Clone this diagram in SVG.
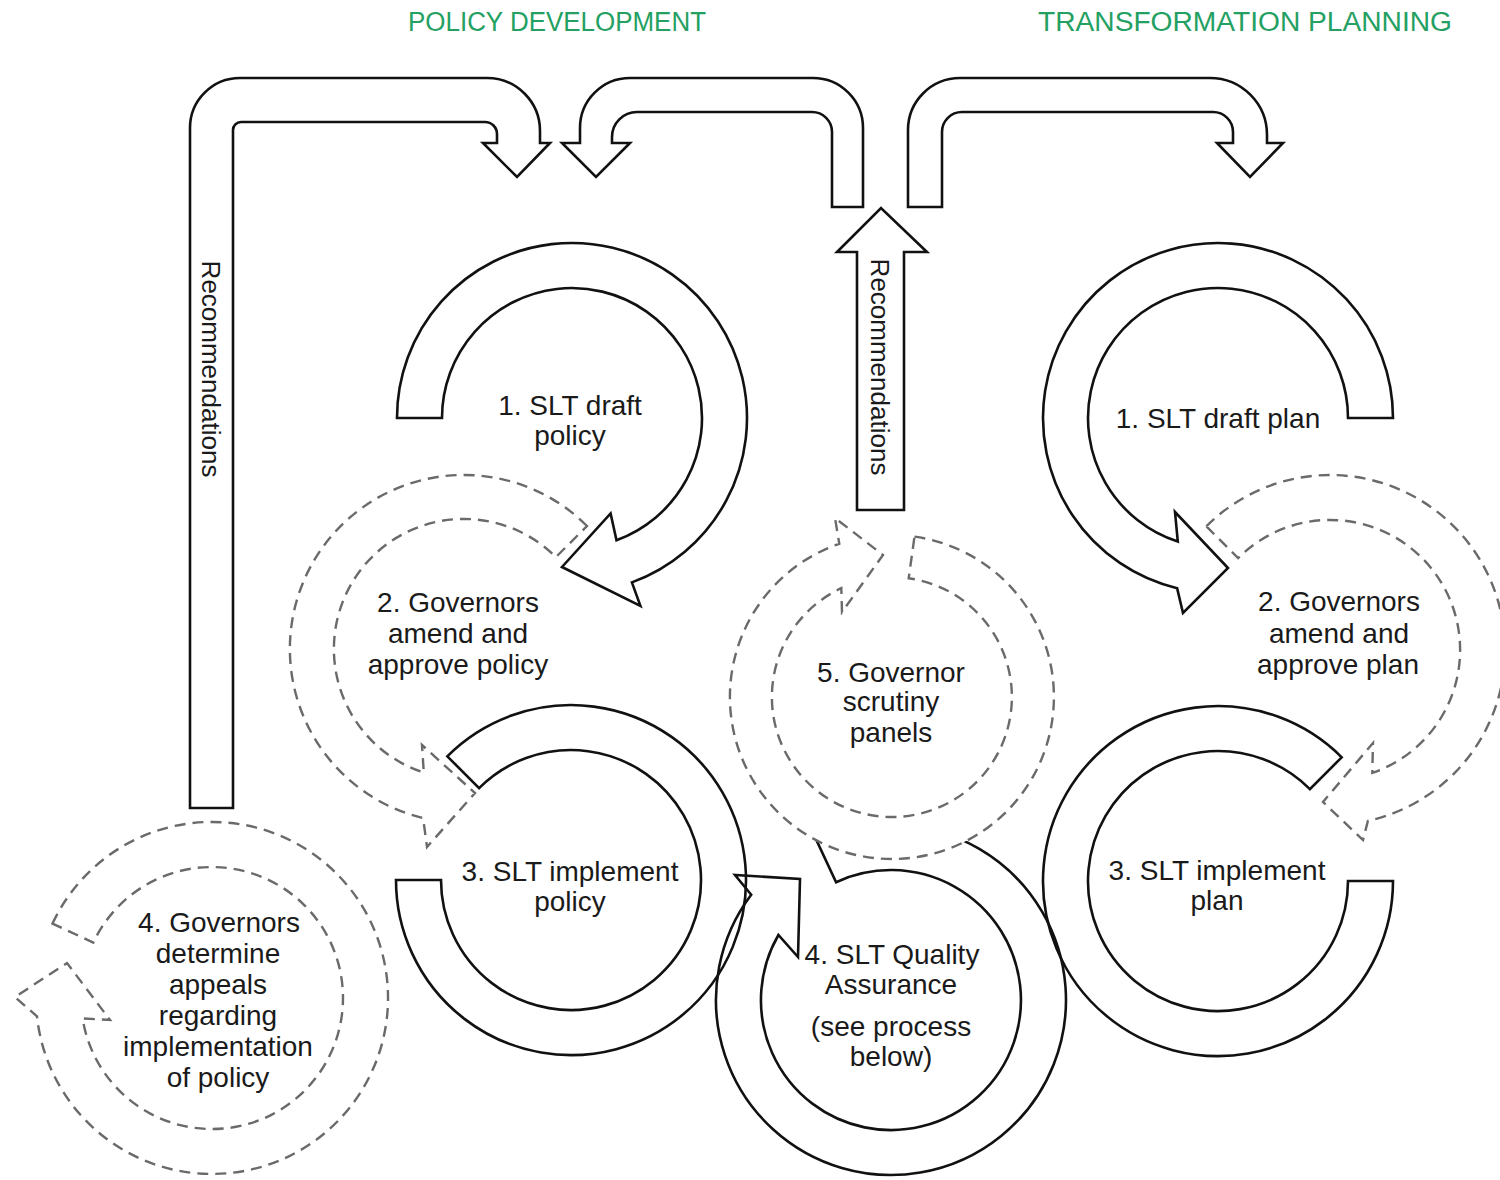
<svg xmlns="http://www.w3.org/2000/svg" width="1500" height="1180" viewBox="0 0 1500 1180">
<style>
.solid{fill:#fff;stroke:#111;stroke-width:2.6;stroke-linejoin:miter}
.open{fill:none;stroke:#111;stroke-width:2.6;stroke-linejoin:miter}
.dash{fill:#fff;stroke:#6a6a6a;stroke-width:2.4;stroke-dasharray:11 7}
.lbl{font-family:"Liberation Sans",Arial,sans-serif;font-size:28px;fill:#1a1a1a;text-anchor:middle}
.rec{font-family:"Liberation Sans",Arial,sans-serif;font-size:26px;fill:#1a1a1a;text-anchor:middle}
.hdr{font-family:"Liberation Sans",Arial,sans-serif;font-size:27px;fill:#23a062;text-anchor:middle}
</style>
<rect width="1500" height="1180" fill="#fff"/>
<g id="headers">
<text class="hdr" x="557" y="31" textLength="298" lengthAdjust="spacingAndGlyphs">POLICY DEVELOPMENT</text>
<text class="hdr" x="1245" y="31" textLength="414" lengthAdjust="spacingAndGlyphs">TRANSFORMATION PLANNING</text>
</g>
<g id="connectors">
<path id="rec-left" class="solid" d="M190,808 L190,128 A50,50 0 0 1 240,78 L487,78 A53,53 0 0 1 540,131 L540,143 L550,143 L517,177 L483,143 L497,143 L497,134 A12,12 0 0 0 485,122 L241,122 A8,8 0 0 0 233,130 L233,808 Z"/>
<path id="to-policy" class="solid" d="M863,207 L863,128 A50,50 0 0 0 813,78 L630,78 A50,50 0 0 0 580,128 L580,143 L562,143 L596,177 L630,143 L612,143 L612,137 A25,25 0 0 1 637,112 L812,112 A20,20 0 0 1 832,132 L832,207 Z"/>
<path id="to-plan" class="solid" d="M908,207 L908,130 A52,52 0 0 1 960,78 L1210,78 A57,57 0 0 1 1267,135 L1267,143 L1283,143 L1250,177 L1217,143 L1233,143 L1233,132 A20,20 0 0 0 1213,112 L962,112 A20,20 0 0 0 942,132 L942,207 Z"/>
<path id="rec-up" class="solid" d="M857,510 L857,252 L837,252 L881,208 L927,252 L904,252 L904,510 Z"/>
<text class="rec" transform="translate(211,369) rotate(90)" x="0" y="9">Recommendations</text>
<text class="rec" transform="translate(880,367) rotate(90)" x="0" y="9">Recommendations</text>
</g>
<g id="n4g">
<path class="dash" d="M52.5,923.6 A176,176 0 1 1 37,1016.4 L15,997 L67,963 L110,1020 L82.6,1018.5 A131,131 0 1 0 93.3,942.6 Z"/>
<text class="lbl" x="219" y="932">4. Governors</text>
<text class="lbl" x="218" y="963">determine</text>
<text class="lbl" x="218" y="994">appeals</text>
<text class="lbl" x="218" y="1025">regarding</text>
<text class="lbl" x="218" y="1056">implementation</text>
<text class="lbl" x="218" y="1087">of policy</text>
</g>
<g id="n1p">
<path class="solid" d="M397,418 A175,175 0 1 1 631.9,582.4 L640.4,605.9 L562,567 L610.6,513.5 L616.5,540.2 A130,130 0 1 0 442,418 Z"/>
<text class="lbl" x="570" y="415">1. SLT draft</text>
<text class="lbl" x="570" y="445">policy</text>
</g>
<g id="n3p">
<path class="solid" d="M447.3,756.3 A175,175 0 1 1 396,880 L441,880 A130,130 0 1 0 479.1,788.1 Z"/>
<text class="lbl" x="570" y="881">3. SLT implement</text>
<text class="lbl" x="570" y="911">policy</text>
</g>
<g id="n2p">
<path class="dash" d="M587,526 A174,174 0 1 0 423.1,818.1 L427,847 L475,793 L422,745 L423.8,772.6 A130,130 0 1 1 555.9,557.1 Z"/>
<text class="lbl" x="458" y="612">2. Governors</text>
<text class="lbl" x="458" y="643">amend and</text>
<text class="lbl" x="458" y="674">approve policy</text>
</g>
<g id="n1pl">
<path class="solid" d="M1393,418 A175,175 0 1 0 1177.1,588.2 L1183,613 L1228,568 L1175,512 L1177.8,541.6 A130,130 0 1 1 1348,418 Z"/>
<text class="lbl" x="1218" y="428">1. SLT draft plan</text>
</g>
<g id="n3pl">
<path class="solid" d="M1393,881 A175,175 0 1 1 1341.7,757.3 L1309.9,789.1 A130,130 0 1 0 1348,881 Z"/>
<text class="lbl" x="1217" y="880">3. SLT implement</text>
<text class="lbl" x="1217" y="910">plan</text>
</g>
<g id="n2pl">
<path class="dash" d="M1206.3,526.3 A175,175 0 1 1 1367.9,820.9 L1363,840 L1323,802 L1373,743 L1372.3,772.9 A130,130 0 1 0 1238.1,558.1 Z"/>
<text class="lbl" x="1339" y="611">2. Governors</text>
<text class="lbl" x="1339" y="643">amend and</text>
<text class="lbl" x="1338" y="674">approve plan</text>
</g>
<g id="n4qa">
<path class="open" d="M817,841.4 A175,175 0 1 1 751.2,894.7 L735,875 L800,879 L798,957 L778.4,935 A130,130 0 1 0 836.1,882.2 Z"/>
<text class="lbl" x="892" y="964">4. SLT Quality</text>
<text class="lbl" x="891" y="994">Assurance</text>
<text class="lbl" x="891" y="1036">(see process</text>
<text class="lbl" x="891" y="1066">below)</text>
</g>
<g id="n5">
<path class="dash" d="M914.5,536.6 A162,162 0 1 1 839.3,543.8 L835,518 L883,555 L842,612 L841.3,588.2 A120,120 0 1 0 908.7,578.2 Z"/>
<text class="lbl" x="891" y="682">5. Governor</text>
<text class="lbl" x="891" y="711">scrutiny</text>
<text class="lbl" x="891" y="742">panels</text>
</g>
</svg>
